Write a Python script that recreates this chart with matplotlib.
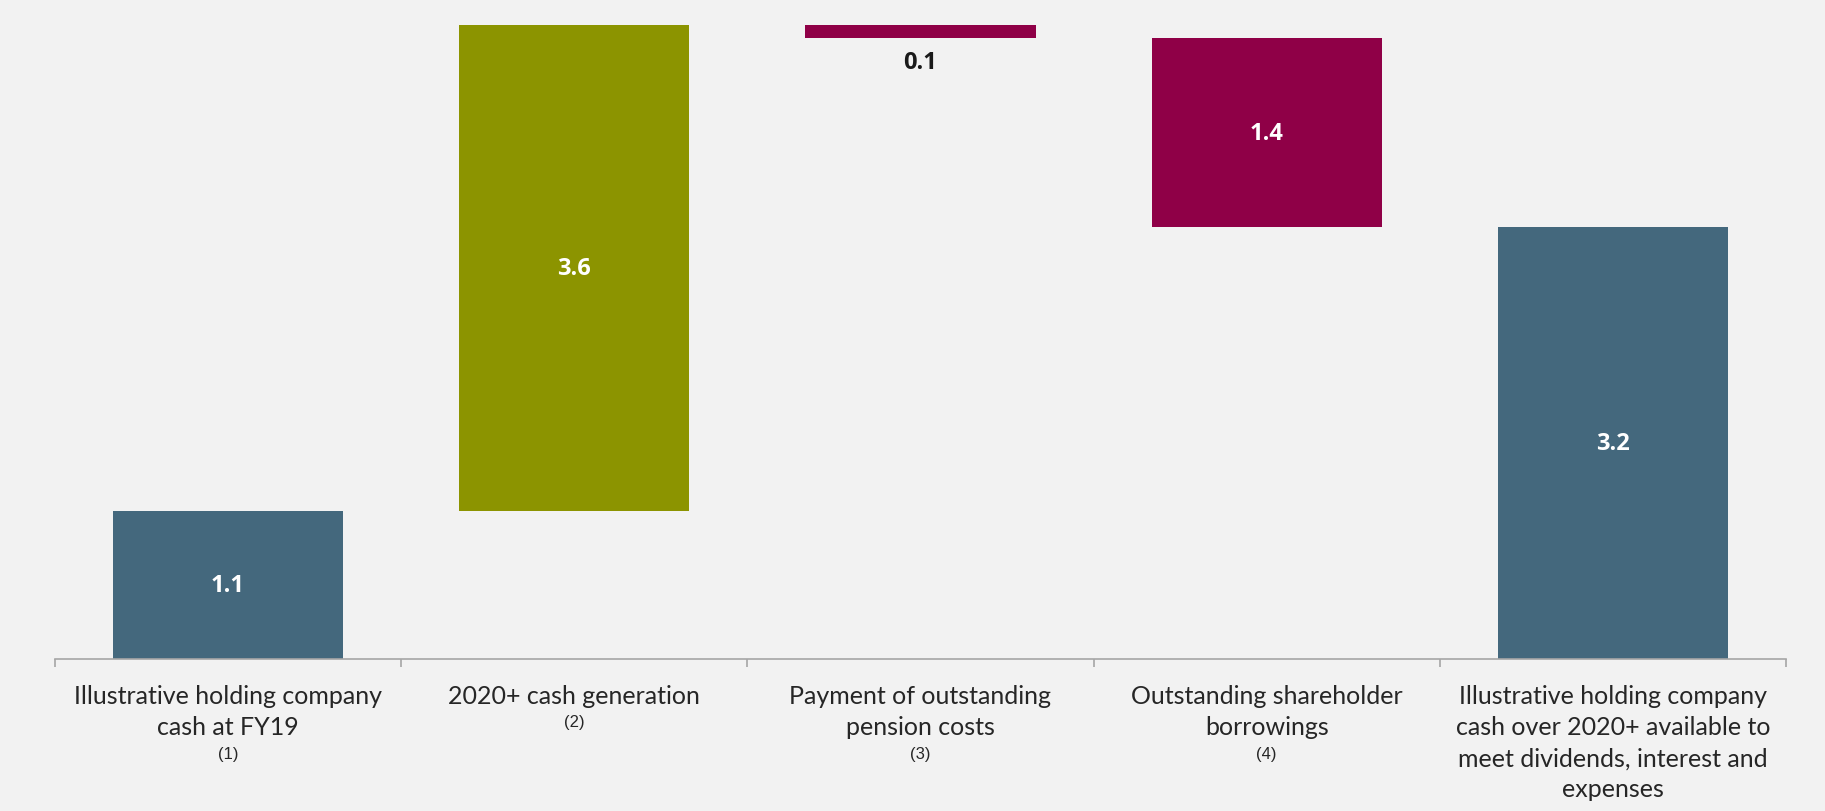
import numpy as np
import matplotlib.pyplot as plt

# Valeurs du graphique en cascade (en milliards)
categories = [
    "Illustrative holding company\ncash at FY19",
    "2020+ cash generation",
    "Payment of outstanding\npension costs",
    "Outstanding shareholder\nborrowings",
    "Illustrative holding company\ncash over 2020+ available to\nmeet dividends, interest and\nexpenses",
]
notes = ["(1)", "(2)", "(3)", "(4)", ""]
valeurs = [1.1, 3.6, -0.1, -1.4, 3.2]
totaux = [True, False, False, False, True]

bleu = "#44687d"
vert = "#8c9400"
pourpre = "#8f0047"
fond = "#f2f2f2"

fig = plt.figure(figsize=(18.25, 8.12), dpi=100, facecolor=fond)
ax = fig.add_axes([0.0301, 0.187, 0.9485, 0.813])
ax.set_facecolor(fond)

# --- calcul des bases de chaque barre
cumul = 0.0
for i, (v, tot) in enumerate(zip(valeurs, totaux)):
    if tot:
        bas, haut = 0.0, v
        couleur = bleu
        cumul = v
    else:
        bas, haut = sorted([cumul, cumul + v])
        couleur = vert if v > 0 else pourpre
        cumul += v
    ax.bar(i, haut - bas, bottom=bas, width=0.665, color=couleur, zorder=2)

    etiquette = "%.1f" % abs(v)
    if haut - bas < 0.3:
        # barre trop fine : valeur en noir sous la barre
        ax.text(i, bas - 0.09, etiquette, ha="center", va="top",
                fontsize=17, fontweight="bold", family="Open Sans", color="#1a1a1a")
    else:
        ax.text(i, (bas + haut) / 2, etiquette, ha="center", va="center",
                fontsize=17, fontweight="bold", family="Open Sans", color="white")

    # libellés de catégorie sous l'axe
    n = categories[i].count("\n") + 1
    ax.annotate(categories[i], xy=(i, 0), xycoords=("data", "axes fraction"),
                xytext=(0, -25 / 1.389), textcoords="offset points",
                ha="center", va="top", fontsize=18, family="Lato",
                color="#262626", linespacing=1.42)
    if notes[i]:
        ax.annotate(notes[i], xy=(i, 0), xycoords=("data", "axes fraction"),
                    xytext=(0, -(62 + 32 * (n - 1)) / 1.389), textcoords="offset points",
                    ha="center", va="center", fontsize=12, family="Liberation Sans",
                    color="#262626")

ax.set_xlim(-0.5, 4.5)
ax.set_ylim(0, 4.89)

for s in ["top", "right", "left"]:
    ax.spines[s].set_visible(False)
ax.spines["bottom"].set_color("#a6a6a6")
ax.spines["bottom"].set_linewidth(1.2)
ax.set_yticks([])
ax.set_xticks(np.arange(-0.5, 5.0, 1.0))
ax.set_xticklabels([])
ax.tick_params(axis="x", length=6, width=1.2, color="#a6a6a6")

fig.savefig("out.png", dpi=100, facecolor=fond)
